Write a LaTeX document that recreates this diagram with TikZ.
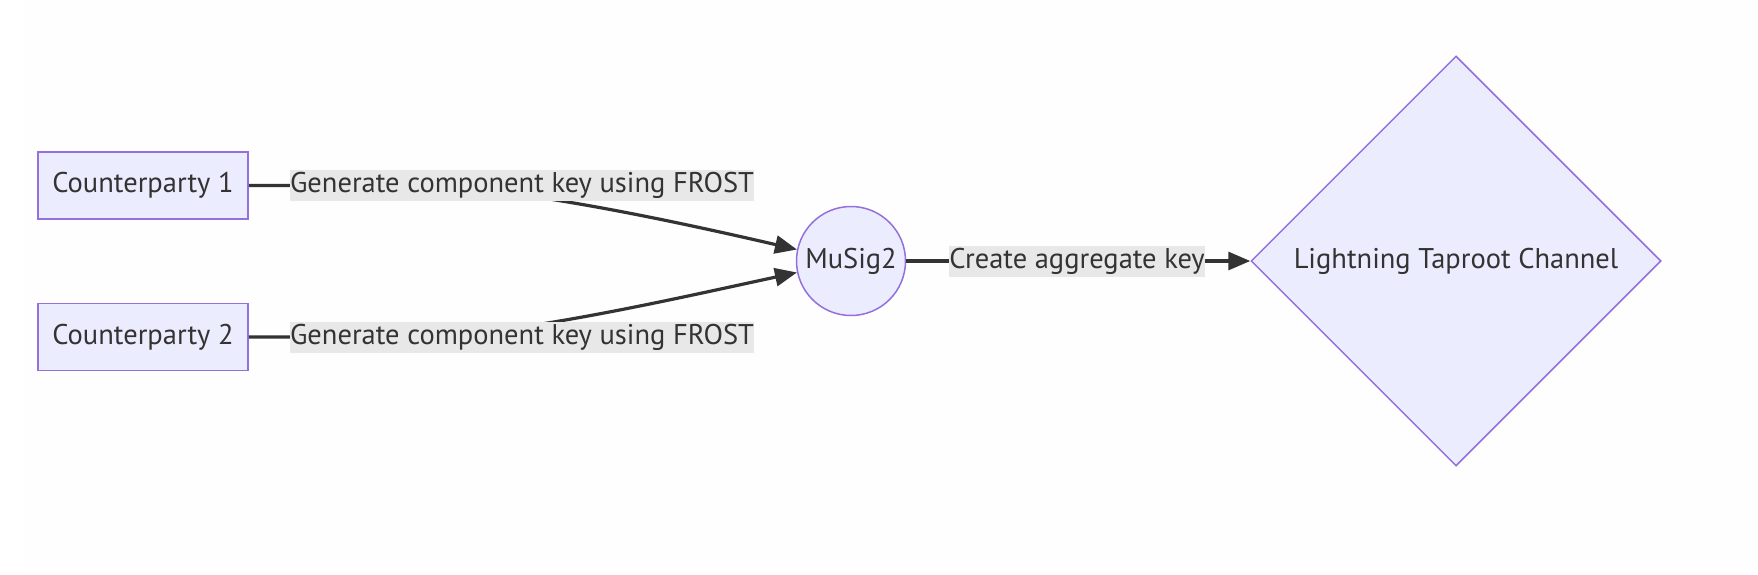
\documentclass[tikz,border=0pt]{standalone}
\usepackage{fontspec}
\setmainfont{PT Sans}
\usetikzlibrary{arrows.meta,shapes.geometric}
\definecolor{nodefill}{HTML}{ECECFF}
\definecolor{nodeline}{HTML}{9370DB}
\definecolor{ink}{HTML}{333333}
\definecolor{lblbg}{HTML}{E8E8E8}
\definecolor{pagebg}{HTML}{FEFEFE}
\newcommand\dfont{\fontsize{28.5pt}{32pt}\selectfont}
\begin{document}
\begin{tikzpicture}[x=1pt,y=-1pt,
  box/.style={draw=nodeline, fill=nodefill, line width=1.5pt, minimum width=210pt, minimum height=67pt, inner sep=0pt, text=ink, font=\dfont},
  roundnode/.style={circle, draw=nodeline, fill=nodefill, line width=1.5pt, minimum size=109pt, inner sep=0pt, text=ink, font=\dfont},
  decision/.style={diamond, draw=nodeline, fill=nodefill, line width=1.5pt, minimum width=410pt, minimum height=410pt, inner sep=0pt, text=ink, font=\dfont},
  lbl/.style={fill=lblbg, text=ink, font=\dfont, inner xsep=0.5pt, inner ysep=0pt, minimum height=31pt},
  edge/.style={draw=ink, line width=3.2pt, -{Triangle[length=22pt,width=18pt]}}]
\useasboundingbox (0,0) rectangle (1758,574);
\fill[pagebg] (23,0) rectangle (1758,569);
\node[box] (c1) at (143,185.5) {Counterparty 1};
\node[box] (c2) at (143,337) {Counterparty 2};
\node[roundnode] (ms) at (851,261) {MuSig2};
\node[decision] (ltc) at (1456,261) {Lightning Taproot Channel};
\draw[edge] (c1.east) -- ++(160,0) .. controls +(100,0) and +(-130,-30) .. (ms.168);
\draw[edge] (c2.east) -- ++(160,0) .. controls +(100,0) and +(-130,28) .. (ms.192);
\draw[edge] (ms.east) -- (ltc.west);
\node[lbl] (l1) at (522,185) {Generate component key using FROST};
\node[lbl] (l2) at (522,337) {Generate component key using FROST};
\node[lbl] (l3) at (1077,261) {Create aggregate key};
\end{tikzpicture}
\end{document}
